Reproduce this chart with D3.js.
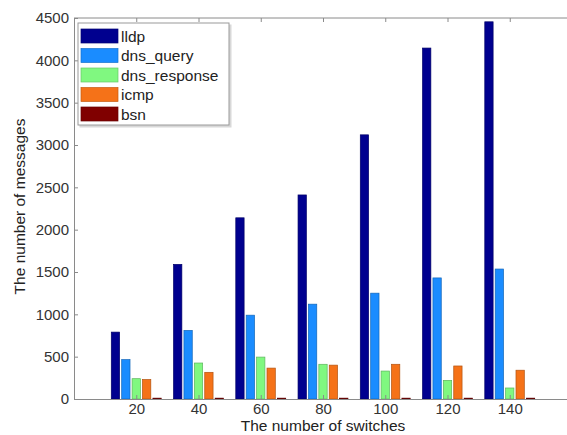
<!DOCTYPE html>
<html>
<head>
<meta charset="utf-8">
<script src="https://cdn.jsdelivr.net/npm/d3@7"></script>
<style>
  html, body { margin: 0; padding: 0; background: #fff; }
  svg { display: block; font-family: "Liberation Sans", Arial, Helvetica, sans-serif; }
</style>
</head>
<body>
<svg id="chart" width="567" height="435"></svg>
<script>
// Message counts per protocol versus number of switches
const switches = [20, 40, 60, 80, 100, 120, 140];
const seriesNames = ["lldp", "dns_query", "dns_response", "icmp", "bsn"];
const lldp         = [790, 1590, 2140, 2410, 3120, 4145, 4455];
const dnsQuery     = [465, 810, 990, 1120, 1250, 1430, 1535];
const dnsResponse  = [240, 425, 495, 410, 330, 220, 130];
const icmp         = [230, 315, 365, 400, 410, 390, 340];
const bsn          = [10, 10, 10, 10, 10, 10, 10];
const yTicks = [0, 500, 1000, 1500, 2000, 2500, 3000, 3500, 4000, 4500];
const colors = ["#00008f", "#1a8cff", "#80f880", "#f57218", "#800000"];

const seriesValues = [lldp, dnsQuery, dnsResponse, icmp, bsn];

const svg = d3.select("#chart");
const plotLeft = 74, plotRight = 572, plotTop = 18, plotBottom = 399;

const x = d3.scaleLinear().domain([0, 160]).range([plotLeft, plotRight]);
const y = d3.scaleLinear().domain([0, 4500]).range([plotBottom, plotTop]);
const sub = d3.scaleBand().domain(seriesNames).range([-26, 26]).paddingInner(0.2).paddingOuter(0.1);
const color = d3.scaleOrdinal().domain(seriesNames).range(colors);

const axisColor = "#8a8a8a";
const textColor = "#333";
const tickFont = 15;

// bars
seriesNames.forEach((name, si) => {
  svg.append("g").selectAll("rect")
    .data(switches.map((s, i) => ({ s, v: seriesValues[si][i] })))
    .join("rect")
    .attr("x", d => x(d.s) + sub(name))
    .attr("width", sub.bandwidth())
    .attr("y", d => y(d.v))
    .attr("height", d => y(0) - y(d.v))
    .attr("fill", color(name))
    .attr("stroke", d3.color(color(name)).darker(0.9))
    .attr("stroke-width", 0.7);
});

// frame line along the top
svg.append("line").attr("x1", plotLeft).attr("x2", plotRight).attr("y1", plotTop).attr("y2", plotTop)
  .attr("stroke", axisColor).attr("stroke-width", 1);

// bottom axis
const xAxis = svg.append("g").attr("transform", `translate(0,${plotBottom})`)
  .call(d3.axisBottom(x).tickValues(switches).tickFormat(d3.format("d"))
    .tickSize(-4).tickPadding(4).tickSizeOuter(0));
xAxis.select(".domain").attr("stroke", axisColor);
xAxis.selectAll(".tick line").attr("stroke", axisColor);
xAxis.selectAll("text").attr("fill", textColor).attr("font-size", tickFont);

// top ticks
const xTop = svg.append("g").attr("transform", `translate(0,${plotTop})`)
  .call(d3.axisTop(x).tickValues(switches).tickSize(-4).tickFormat(""));
xTop.select(".domain").remove();
xTop.selectAll(".tick line").attr("stroke", axisColor);

// left axis
const yAxis = svg.append("g").attr("transform", `translate(${plotLeft},0)`)
  .call(d3.axisLeft(y).tickValues(yTicks).tickFormat(d3.format("d"))
    .tickSize(-4).tickPadding(5).tickSizeOuter(0));
yAxis.select(".domain").attr("stroke", axisColor);
yAxis.selectAll(".tick line").attr("stroke", axisColor);
yAxis.selectAll("text").attr("fill", textColor).attr("font-size", tickFont);

// axis titles
svg.append("text")
  .attr("x", x(80)).attr("y", 431)
  .attr("text-anchor", "middle")
  .attr("font-size", 15.5).attr("fill", "#222")
  .text("The number of switches");
svg.append("text")
  .attr("transform", `translate(25,${(plotTop + plotBottom) / 2 - 2}) rotate(-90)`)
  .attr("text-anchor", "middle")
  .attr("font-size", 15.5).attr("fill", "#222")
  .text("The number of messages");

// legend
const lg = svg.append("g").attr("transform", "translate(78,23)");
lg.append("rect").attr("x", 1.5).attr("y", 1.5).attr("width", 152).attr("height", 103)
  .attr("fill", "#d8d8d8");
lg.append("rect").attr("width", 151).attr("height", 102)
  .attr("fill", "#fff").attr("stroke", "#9a9a9a").attr("stroke-width", 1);
seriesNames.forEach((name, i) => {
  const row = lg.append("g").attr("transform", `translate(3,${6 + i * 19.5})`);
  row.append("rect").attr("width", 37).attr("height", 14)
    .attr("fill", color(name))
    .attr("stroke", d3.color(color(name)).darker(0.6)).attr("stroke-width", 0.7);
  row.append("text").attr("x", 40).attr("y", 12.5)
    .attr("font-size", 15.5).attr("fill", "#222")
    .text(name);
});
</script>
</body>
</html>
